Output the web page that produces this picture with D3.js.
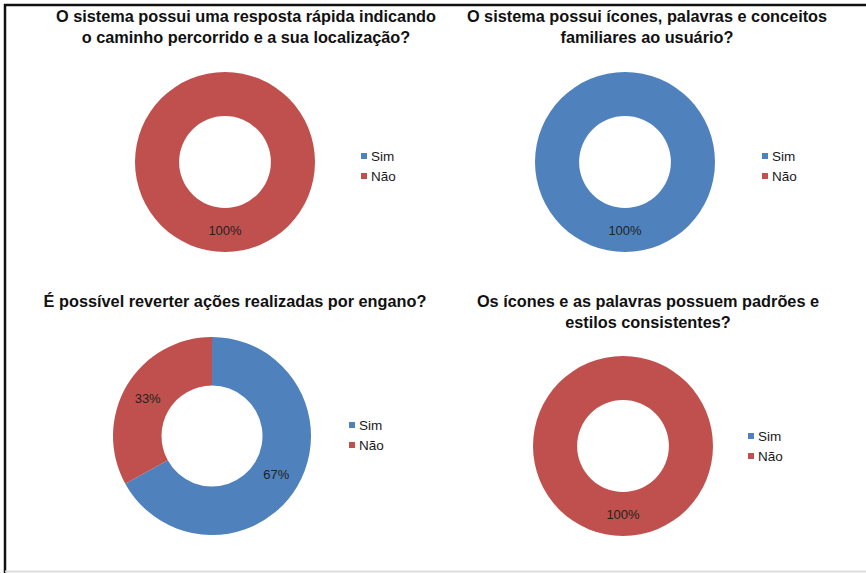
<!DOCTYPE html>
<html>
<head>
<meta charset="utf-8">
<script src="https://cdn.jsdelivr.net/npm/d3@7"></script>
<style>
  html, body { margin: 0; padding: 0; background: #fff; }
  svg { display: block; }
</style>
</head>
<body>
<svg id="chart" width="866" height="573"></svg>
<script>
// Answer categories shared by every question
const categories = ["Sim", "Não"];

// Question titles (split into lines as printed)
const titles = [
  ["O sistema possui uma resposta rápida indicando", "o caminho percorrido e a sua localização?"],
  ["O sistema possui ícones, palavras e conceitos", "familiares ao usuário?"],
  ["É possível reverter ações realizadas por engano?"],
  ["Os ícones e as palavras possuem padrões e", "estilos consistentes?"]
];

// Share of answers (%) per question, in category order
const q1Values = [0, 100];
const q2Values = [100, 0];
const q3Values = [67, 33];
const q4Values = [0, 100];
const seriesValues = [q1Values, q2Values, q3Values, q4Values];

// Layout of the four donut panels
const panels = [
  { cx: 225, cy: 162, r: 90, tx: 246, ty: 22, lx: 361, ly: 156 },
  { cx: 625, cy: 162, r: 90, tx: 647, ty: 22, lx: 762, ly: 156 },
  { cx: 212, cy: 436, r: 99, tx: 235, ty: 307, lx: 349, ly: 425 },
  { cx: 623, cy: 446, r: 90, tx: 648, ty: 307, lx: 748, ly: 436 }
];

const color = d3.scaleOrdinal().domain(categories).range(["#4F81BD", "#C0504D"]);
const pie = d3.pie().sort(null).value(d => d.value);

const svg = d3.select("#chart");
const font = "'Liberation Sans', Arial, sans-serif";

panels.forEach((p, i) => {
  const g = svg.append("g");
  const data = categories.map((c, k) => ({ cat: c, value: seriesValues[i][k] }));
  const total = d3.sum(data, d => d.value);
  const arc = d3.arc().innerRadius(p.r * 0.51).outerRadius(p.r);
  const labelArc = d3.arc().innerRadius(p.r * 0.755).outerRadius(p.r * 0.755);
  const arcs = pie(data);

  // Title
  const t = g.append("text")
    .attr("x", p.tx).attr("y", p.ty)
    .attr("text-anchor", "middle")
    .attr("font-family", font).attr("font-weight", "bold")
    .attr("font-size", 16.3).attr("fill", "#111");
  titles[i].forEach((line, j) => {
    t.append("tspan").attr("x", p.tx).attr("y", p.ty + j * 21).text(line);
  });

  // Donut ring
  const ring = g.append("g").attr("transform", `translate(${p.cx},${p.cy})`);
  ring.selectAll("path")
    .data(arcs.filter(a => a.data.value > 0))
    .join("path")
    .attr("d", arc)
    .attr("fill", d => color(d.data.cat));

  // Percentage labels
  ring.selectAll("text")
    .data(arcs.filter(a => a.data.value > 0))
    .join("text")
    .attr("transform", d => `translate(${labelArc.centroid(d)})`)
    .attr("text-anchor", "middle")
    .attr("dy", "0.35em")
    .attr("font-family", font).attr("font-size", 13).attr("fill", "#222")
    .text(d => Math.round(d.data.value / total * 100) + "%");

  // Legend
  const lg = g.append("g").attr("transform", `translate(${p.lx},${p.ly})`);
  const items = lg.selectAll("g").data(categories).join("g")
    .attr("transform", (d, k) => `translate(0,${k * 20})`);
  items.append("rect")
    .attr("x", 0).attr("y", -3).attr("width", 6).attr("height", 6)
    .attr("fill", d => color(d));
  items.append("text")
    .attr("x", 10).attr("y", 0).attr("dy", "0.35em")
    .attr("font-family", font).attr("font-size", 13.5).attr("fill", "#1a1a1a")
    .text(d => d);
});

// Frame around the figure
svg.append("line").attr("x1", 5).attr("x2", 5).attr("y1", 4).attr("y2", 573)
  .attr("stroke", "#111").attr("stroke-width", 2.5);
svg.append("line").attr("x1", 4).attr("x2", 866).attr("y1", 5).attr("y2", 5)
  .attr("stroke", "#111").attr("stroke-width", 2.5);
svg.append("line").attr("x1", 5).attr("x2", 866).attr("y1", 571.5).attr("y2", 571.5)
  .attr("stroke", "#ddd").attr("stroke-width", 2);
</script>
</body>
</html>
